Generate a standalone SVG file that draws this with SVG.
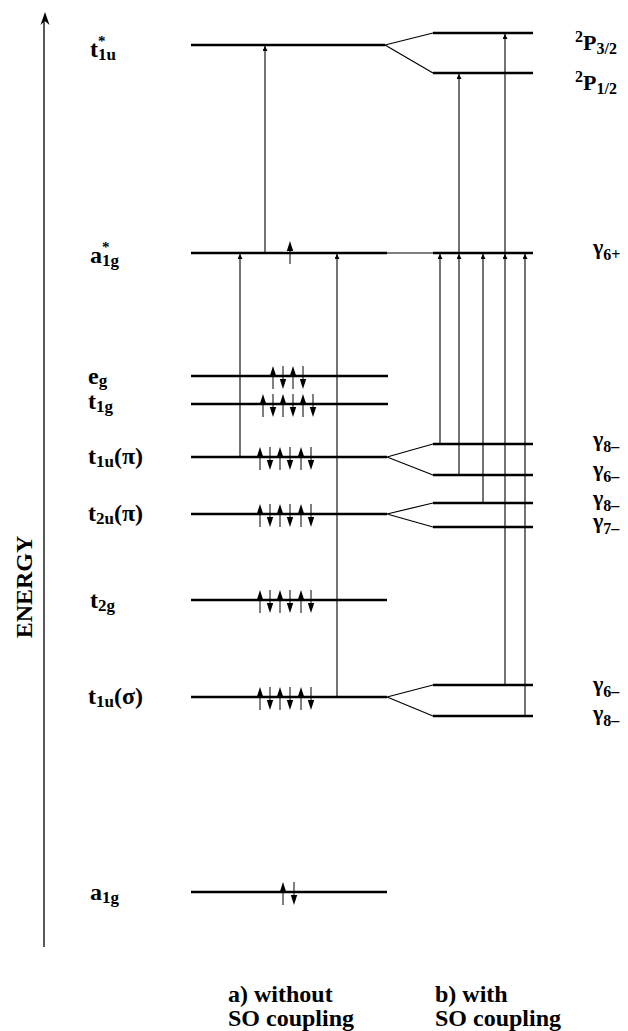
<svg xmlns="http://www.w3.org/2000/svg" width="628" height="1031" viewBox="0 0 628 1031">
<style>
.lv{stroke:#000;stroke-width:2.5;fill:none}
.th{stroke:#000;stroke-width:1.2;fill:none}
.tr{stroke:#000;stroke-width:1.1;fill:none;marker-end:url(#ah)}
text{font-family:"Liberation Serif","Times New Roman",serif;font-weight:bold;font-size:24px;fill:#000}
.r{font-size:22px}
.sb{font-size:17px}
.rs{font-size:16px}
.ast{font-size:15px}
</style>
<defs>
<marker id="ah" viewBox="0 0 10 10" refX="10" refY="5" markerUnits="userSpaceOnUse" markerWidth="9" markerHeight="5" orient="auto">
<path d="M0,0 L10,5 L0,10 Z" fill="#000"/>
</marker>
<g id="up"><path d="M0,-3 V13" stroke="#000" stroke-width="1"/><path d="M0,-10 L-3.2,0 L3.2,0 Z" fill="#000"/></g>
<g id="dn"><path d="M0,-10 V6" stroke="#000" stroke-width="1"/><path d="M0,13 L-3.2,3 L3.2,3 Z" fill="#000"/></g>
</defs>
<rect width="628" height="1031" fill="#fff"/>

<g id="axis">
<line x1="44" y1="947" x2="44" y2="20" stroke="#000" stroke-width="1.3"/>
<path d="M45,12 L40.5,25 L44.8,21 L49.5,25 Z" fill="#000"/>
<text transform="translate(32,587) rotate(-90)" text-anchor="middle">ENERGY</text>
</g>

<g id="connectors">
<path class="th" d="M385,45 L433,33 M385,45 L433,73"/>
<path class="th" d="M387,253 L433,253"/>
<path class="th" d="M387,457 L433,444 M387,457 L433,475"/>
<path class="th" d="M387,514 L433,503 M387,514 L433,527"/>
<path class="th" d="M387,697 L433,685 M387,697 L433,716"/>
<line class="tr" x1="265" y1="253" x2="265" y2="46"/>
<line class="tr" x1="240" y1="457" x2="240" y2="254"/>
<line class="tr" x1="337" y1="697" x2="337" y2="254"/>
<line class="tr" x1="440" y1="444" x2="440" y2="254"/>
<line class="tr" x1="459" y1="475" x2="459" y2="254"/>
<line class="tr" x1="459" y1="253" x2="459" y2="74"/>
<line class="tr" x1="483" y1="503" x2="483" y2="254"/>
<line class="tr" x1="505" y1="685" x2="505" y2="254"/>
<line class="tr" x1="505" y1="253" x2="505" y2="34"/>
<line class="tr" x1="525" y1="716" x2="525" y2="254"/>
</g>

<g id="t1u_star">
<line class="lv" x1="191" y1="45" x2="385" y2="45"/>
<text x="90" y="57">t<tspan class="sb" dy="3">1u</tspan><tspan class="ast" x="98" y="46">*</tspan></text>
</g>
<g id="P32">
<line class="lv" x1="433" y1="33" x2="533" y2="33"/>
<text class="r" x="575" y="50"><tspan class="rs" dy="-8">2</tspan><tspan dy="8">P</tspan><tspan class="rs" dy="4">3/2</tspan></text>
</g>
<g id="P12">
<line class="lv" x1="433" y1="73" x2="533" y2="73"/>
<text class="r" x="575" y="90"><tspan class="rs" dy="-8">2</tspan><tspan dy="8">P</tspan><tspan class="rs" dy="4">1/2</tspan></text>
</g>

<g id="a1g_star">
<line class="lv" x1="191" y1="253" x2="387" y2="253"/>
<use href="#up" x="290" y="251"/>
<text x="90" y="263">a<tspan class="sb" dy="3">1g</tspan><tspan class="ast" x="102" y="252">*</tspan></text>
</g>
<g id="g6p">
<line class="lv" x1="433" y1="253" x2="533" y2="253"/>
<text class="r" x="593" y="254">γ<tspan class="rs" dy="6">6+</tspan></text>
</g>

<g id="eg">
<line class="lv" x1="191" y1="376" x2="388" y2="376"/>
<use href="#up" x="273" y="376"/><use href="#dn" x="283" y="376"/><use href="#up" x="293" y="376"/><use href="#dn" x="303" y="376"/>
<text x="88" y="384">e<tspan class="sb" dy="2">g</tspan></text>
</g>
<g id="t1g">
<line class="lv" x1="191" y1="404" x2="388" y2="404"/>
<use href="#up" x="263" y="404"/><use href="#dn" x="273" y="404"/><use href="#up" x="283" y="404"/><use href="#dn" x="293" y="404"/><use href="#up" x="303" y="404"/><use href="#dn" x="313" y="404"/>
<text x="88" y="409">t<tspan class="sb" dy="3">1g</tspan></text>
</g>

<g id="t1u_pi">
<line class="lv" x1="191" y1="457" x2="387" y2="457"/>
<use href="#up" x="260" y="457"/><use href="#dn" x="270" y="457"/><use href="#up" x="280" y="457"/><use href="#dn" x="290" y="457"/><use href="#up" x="301" y="457"/><use href="#dn" x="311" y="457"/>
<text x="88" y="464">t<tspan class="sb" dy="3">1u</tspan><tspan dy="-3">(π)</tspan></text>
</g>
<g id="g8m_a">
<line class="lv" x1="433" y1="444" x2="533" y2="444"/>
<text class="r" x="593" y="446">γ<tspan class="rs" dy="6">8–</tspan></text>
</g>
<g id="g6m_a">
<line class="lv" x1="433" y1="475" x2="533" y2="475"/>
<text class="r" x="593" y="476">γ<tspan class="rs" dy="6">6–</tspan></text>
</g>

<g id="t2u_pi">
<line class="lv" x1="191" y1="514" x2="387" y2="514"/>
<use href="#up" x="260" y="514"/><use href="#dn" x="270" y="514"/><use href="#up" x="280" y="514"/><use href="#dn" x="290" y="514"/><use href="#up" x="301" y="514"/><use href="#dn" x="311" y="514"/>
<text x="88" y="521">t<tspan class="sb" dy="3">2u</tspan><tspan dy="-3">(π)</tspan></text>
</g>
<g id="g8m_b">
<line class="lv" x1="433" y1="503" x2="533" y2="503"/>
<text class="r" x="593" y="505">γ<tspan class="rs" dy="6">8–</tspan></text>
</g>
<g id="g7m">
<line class="lv" x1="433" y1="527" x2="533" y2="527"/>
<text class="r" x="593" y="528">γ<tspan class="rs" dy="6">7–</tspan></text>
</g>

<g id="t2g">
<line class="lv" x1="191" y1="600" x2="387" y2="600"/>
<use href="#up" x="260" y="600"/><use href="#dn" x="270" y="600"/><use href="#up" x="280" y="600"/><use href="#dn" x="290" y="600"/><use href="#up" x="301" y="600"/><use href="#dn" x="311" y="600"/>
<text x="90" y="608">t<tspan class="sb" dy="3">2g</tspan></text>
</g>

<g id="t1u_sigma">
<line class="lv" x1="191" y1="697" x2="387" y2="697"/>
<use href="#up" x="260" y="697"/><use href="#dn" x="270" y="697"/><use href="#up" x="280" y="697"/><use href="#dn" x="290" y="697"/><use href="#up" x="301" y="697"/><use href="#dn" x="311" y="697"/>
<text x="88" y="704">t<tspan class="sb" dy="3">1u</tspan><tspan dy="-3">(σ)</tspan></text>
</g>
<g id="g6m_b">
<line class="lv" x1="433" y1="685" x2="533" y2="685"/>
<text class="r" x="593" y="691">γ<tspan class="rs" dy="6">6–</tspan></text>
</g>
<g id="g8m_c">
<line class="lv" x1="433" y1="716" x2="533" y2="716"/>
<text class="r" x="593" y="720">γ<tspan class="rs" dy="6">8–</tspan></text>
</g>

<g id="a1g">
<line class="lv" x1="191" y1="892" x2="387" y2="892"/>
<use href="#up" x="283" y="892"/><use href="#dn" x="294" y="892"/>
<text x="90" y="900">a<tspan class="sb" dy="3">1g</tspan></text>
</g>

<g id="caption_a">
<text x="228" y="1002">a) without</text>
<text x="228" y="1026">SO coupling</text>
</g>
<g id="caption_b">
<text x="435" y="1002">b) with</text>
<text x="435" y="1026">SO coupling</text>
</g>
</svg>
